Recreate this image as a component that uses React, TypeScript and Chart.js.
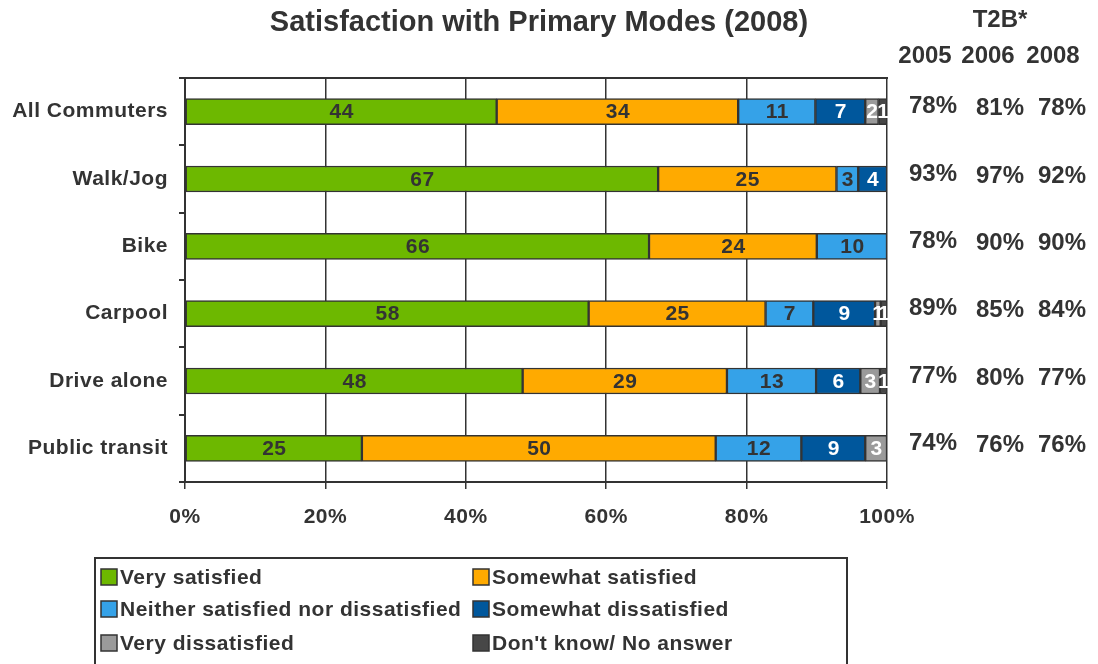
import React, { useEffect, useRef } from "react";
import { Chart, registerables } from "chart.js";

Chart.register(...registerables);

const FONT = '"Liberation Sans", Arial, Helvetica, sans-serif';
const TEXT = "#333333";

const categories = ["All Commuters", "Walk/Jog", "Bike", "Carpool", "Drive alone", "Public transit"];
const verySatisfied = [44.4, 67.4, 66.1, 57.5, 48.1, 25.2];
const somewhatSatisfied = [34.4, 25.4, 23.9, 25.2, 29.1, 50.4];
const neither = [11.0, 3.1, 10.0, 6.8, 12.7, 12.2];
const somewhatDissatisfied = [7.1, 4.1, null, 8.8, 6.3, 9.1];
const veryDissatisfied = [1.9, null, null, 0.8, 2.8, 3.1];
const dontKnow = [1.2, null, null, 0.9, 1.0, null];

const xTicks = [0, 20, 40, 60, 80, 100];

const t2bTitle = "T2B*";
const t2bYears = ["2005", "2006", "2008"];
const t2b2005 = [78, 93, 78, 89, 77, 74];
const t2b2006 = [81, 97, 90, 85, 80, 76];
const t2b2008 = [78, 92, 90, 84, 77, 76];

const chartTitle = "Satisfaction with Primary Modes (2008)";

const seriesLabels = [
  "Very satisfied",
  "Somewhat satisfied",
  "Neither satisfied nor dissatisfied",
  "Somewhat dissatisfied",
  "Very dissatisfied",
  "Don't know/ No answer",
];
const seriesData = [verySatisfied, somewhatSatisfied, neither, somewhatDissatisfied, veryDissatisfied, dontKnow];
const seriesColors = ["#6DB800", "#FFAA00", "#35A2E8", "#00579C", "#9A9A9A", "#474747"];
const labelColors = [TEXT, TEXT, TEXT, "#FFFFFF", "#FFFFFF", "#FFFFFF"];

const SPACING = "0.5px";

const overlayPlugin = {
  id: "overlay",
  beforeDraw(chart: any) {
    chart.ctx.letterSpacing = SPACING;
  },
  afterDatasetsDraw(chart: any) {
    const ctx = chart.ctx;
    ctx.save();
    ctx.font = `bold 21px ${FONT}`;
    ctx.letterSpacing = SPACING;
    ctx.textAlign = "center";
    ctx.textBaseline = "middle";
    chart.data.datasets.forEach((ds: any, di: number) => {
      const meta = chart.getDatasetMeta(di);
      meta.data.forEach((el: any, i: number) => {
        const v = ds.data[i];
        if (v == null) return;
        const cx = (el.x + el.base) / 2;
        ctx.fillStyle = labelColors[di];
        ctx.fillText(String(Math.round(v)), cx + 0.5, el.y + 1);
      });
    });
    ctx.restore();
  },
  afterDraw(chart: any) {
    const ctx = chart.ctx;
    const area = chart.chartArea;
    const ys = chart.scales.y;
    ctx.save();
    // top border
    ctx.strokeStyle = TEXT;
    ctx.lineWidth = 2;
    ctx.beginPath();
    ctx.moveTo(area.left - 6, area.top);
    ctx.lineTo(area.right + 1, area.top);
    ctx.stroke();

    // title
    ctx.letterSpacing = "0px";
    ctx.fillStyle = TEXT;
    ctx.textAlign = "center";
    ctx.textBaseline = "middle";
    ctx.font = `bold 29px ${FONT}`;
    ctx.fillText(chartTitle, 539, 23);

    // T2B
    ctx.font = `bold 24px ${FONT}`;
    ctx.fillText(t2bTitle, 1000, 20);
    const yearX = [925, 988, 1053];
    t2bYears.forEach((yr, k) => ctx.fillText(yr, yearX[k], 56));
    const colX = [933, 1000, 1062];
    const cols = [t2b2005, t2b2006, t2b2008];
    const dy = [-5, -3, -3];
    categories.forEach((_, i) => {
      const cy = ys.getPixelForValue(i);
      cols.forEach((col, k) => {
        ctx.fillText(col[i] + "%", colX[k], cy + dy[k]);
      });
    });

    // legend
    ctx.lineWidth = 2;
    ctx.strokeStyle = TEXT;
    ctx.strokeRect(95, 558, 752, 130);
    const colPos = [101, 473];
    const rowPos = [577, 609, 643];
    ctx.font = `bold 21px ${FONT}`;
    ctx.letterSpacing = SPACING;
    ctx.textAlign = "left";
    chart.data.datasets.forEach((ds: any, di: number) => {
      const x = colPos[di % 2];
      const y = rowPos[Math.floor(di / 2)];
      ctx.fillStyle = ds.backgroundColor;
      ctx.fillRect(x, y - 8, 16, 16);
      ctx.lineWidth = 1.5;
      ctx.strokeStyle = TEXT;
      ctx.strokeRect(x, y - 8, 16, 16);
      ctx.fillStyle = TEXT;
      ctx.fillText(ds.label, x + 19, y + 1);
    });
    ctx.restore();
  },
};

export default function App() {
  const ref = useRef<HTMLCanvasElement | null>(null);
  useEffect(() => {
    document.body.style.margin = "0";
    const canvas = ref.current;
    if (!canvas) return;
    const chart = new Chart(canvas, {
      type: "bar",
      data: {
        labels: categories,
        datasets: seriesData.map((d, i) => ({
          label: seriesLabels[i],
          data: d as any,
          backgroundColor: seriesColors[i],
          borderColor: TEXT,
          borderWidth: 1.5,
          borderSkipped: false,
          barThickness: 26,
        })),
      },
      options: {
        indexAxis: "y",
        animation: false,
        responsive: false,
        maintainAspectRatio: false,
        layout: { padding: { top: 78, right: 211, left: 0, bottom: 0 } },
        plugins: {
          legend: { display: false },
          tooltip: { enabled: false },
          title: { display: false },
        },
        scales: {
          x: {
            type: "linear",
            stacked: true,
            min: 0,
            max: 100,
            afterFit: (s: any) => {
              s.height = 182;
            },
            afterBuildTicks: (s: any) => {
              s.ticks = xTicks.map((v) => ({ value: v }));
            },
            ticks: {
              stepSize: 20,
              padding: 16,
              color: TEXT,
              font: { family: FONT, size: 21, weight: "bold" },
              callback: (v: any) => v + "%",
              maxRotation: 0,
            },
            grid: { color: TEXT, lineWidth: 1.5, tickLength: 7, drawOnChartArea: true },
            border: { display: true, color: TEXT, width: 2 },
          },
          y: {
            type: "category",
            stacked: true,
            afterFit: (s: any) => {
              s.width = 185;
            },
            ticks: {
              padding: 11,
              color: TEXT,
              font: { family: FONT, size: 21, weight: "bold" },
            },
            grid: { offset: true, color: TEXT, lineWidth: 2, tickLength: 6, drawOnChartArea: false },
            border: { display: true, color: TEXT, width: 2 },
          },
        },
      } as any,
      plugins: [overlayPlugin],
    });
    return () => chart.destroy();
  }, []);
  return (
    <div style={{ position: "fixed", left: 0, top: 0, width: 1098, height: 664, background: "#fff" }}>
      <canvas ref={ref} width={1098} height={664} style={{ width: 1098, height: 664, display: "block" }} />
    </div>
  );
}
